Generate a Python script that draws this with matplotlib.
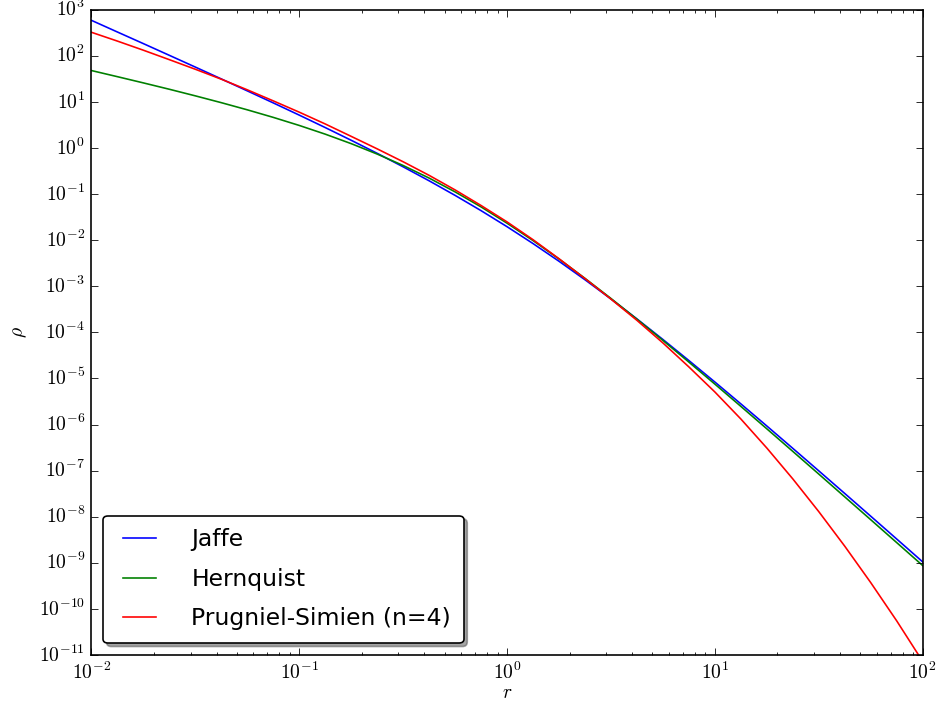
"""Density profiles of Jaffe, Hernquist and Prugniel-Simien (n=4) models."""

import numpy as np
import matplotlib
matplotlib.use("Agg")
import matplotlib.pyplot as plt
from matplotlib.ticker import FuncFormatter, LogLocator, NullFormatter, NullLocator

# values, stored as log10 (r) and log10 (rho)
LOG_R = [-2.0, -1.875, -1.75, -1.625, -1.5, -1.375, -1.25, -1.125,
         -1.0, -0.875, -0.75, -0.625, -0.5, -0.375, -0.25, -0.125,
         0.0, 0.125, 0.25, 0.375, 0.5, 0.625, 0.75, 0.875,
         1.0, 1.125, 1.25, 1.375, 1.5, 1.625, 1.75, 1.875, 2.0]

LOG_RHO_JAFFE = [2.769, 2.516, 2.264, 2.010, 1.755, 1.498, 1.239, 0.978,
                 0.713, 0.443, 0.167, -0.116, -0.409, -0.712, -1.029, -1.360,
                 -1.708, -2.074, -2.458, -2.859, -3.276, -3.709, -4.155, -4.612,
                 -5.078, -5.552, -6.032, -6.517, -7.005, -7.496, -7.989, -8.484,
                 -8.980]

LOG_RHO_HERNQUIST = [1.680, 1.547, 1.412, 1.274, 1.131, 0.983, 0.828, 0.664,
                     0.489, 0.300, 0.094, -0.132, -0.380, -0.653, -0.953, -1.279,
                     -1.632, -2.009, -2.409, -2.829, -3.265, -3.715, -4.176, -4.646,
                     -5.123, -5.606, -6.093, -6.583, -7.075, -7.570, -8.065, -8.562,
                     -9.060]

LOG_RHO_PS = [2.510, 2.319, 2.121, 1.916, 1.708, 1.492, 1.262, 1.022,
              0.777, 0.521, 0.252, -0.019, -0.299, -0.594, -0.910, -1.248,
              -1.604, -1.990, -2.403, -2.834, -3.279, -3.740, -4.230, -4.751,
              -5.294, -5.880, -6.510, -7.180, -7.890, -8.640, -9.430, -10.260,
              -11.140]

LABELS = ["Jaffe", "Hernquist", "Prugniel-Simien (n=4)"]
COLORS = ["b", "g", "r"]


def pow10_label(v, _pos):
    # plain mathtext so the labels come out in Computer Modern
    return rf"$10^{{{int(round(np.log10(v)))}}}$"


def main() -> None:
    plt.style.use("classic")
    plt.rcParams["figure.facecolor"] = "white"
    plt.rcParams["savefig.facecolor"] = "white"
    plt.rcParams["mathtext.fontset"] = "cm"

    r = 10.0 ** np.array(LOG_R)
    series = [LOG_RHO_JAFFE, LOG_RHO_HERNQUIST, LOG_RHO_PS]

    fig = plt.figure(figsize=(8, 704 / 117.5), dpi=117.5)
    ax = fig.add_axes([0.0973, 0.0696, 0.8843, 0.9166])

    for vals, label, color in zip(series, LABELS, COLORS):
        ax.loglog(r, 10.0 ** np.array(vals), color=color, label=label)

    ax.set_xlim(1e-2, 1e2)
    ax.set_ylim(1e-11, 1e3)
    ax.yaxis.set_major_locator(LogLocator(base=10, numticks=20))
    ax.yaxis.set_minor_locator(NullLocator())
    ax.xaxis.set_major_formatter(FuncFormatter(pow10_label))
    ax.yaxis.set_major_formatter(FuncFormatter(pow10_label))
    ax.xaxis.set_minor_formatter(NullFormatter())
    ax.set_xlabel(r"$r$", labelpad=0)
    ax.set_ylabel(r"$\rho$", labelpad=6)
    ax.legend(loc="lower left", fancybox=True, shadow=True,
              labelspacing=0.7, handletextpad=1.2, borderpad=0.55)

    fig.savefig("out.png", dpi=117.5)
    plt.close(fig)


if __name__ == "__main__":
    main()
